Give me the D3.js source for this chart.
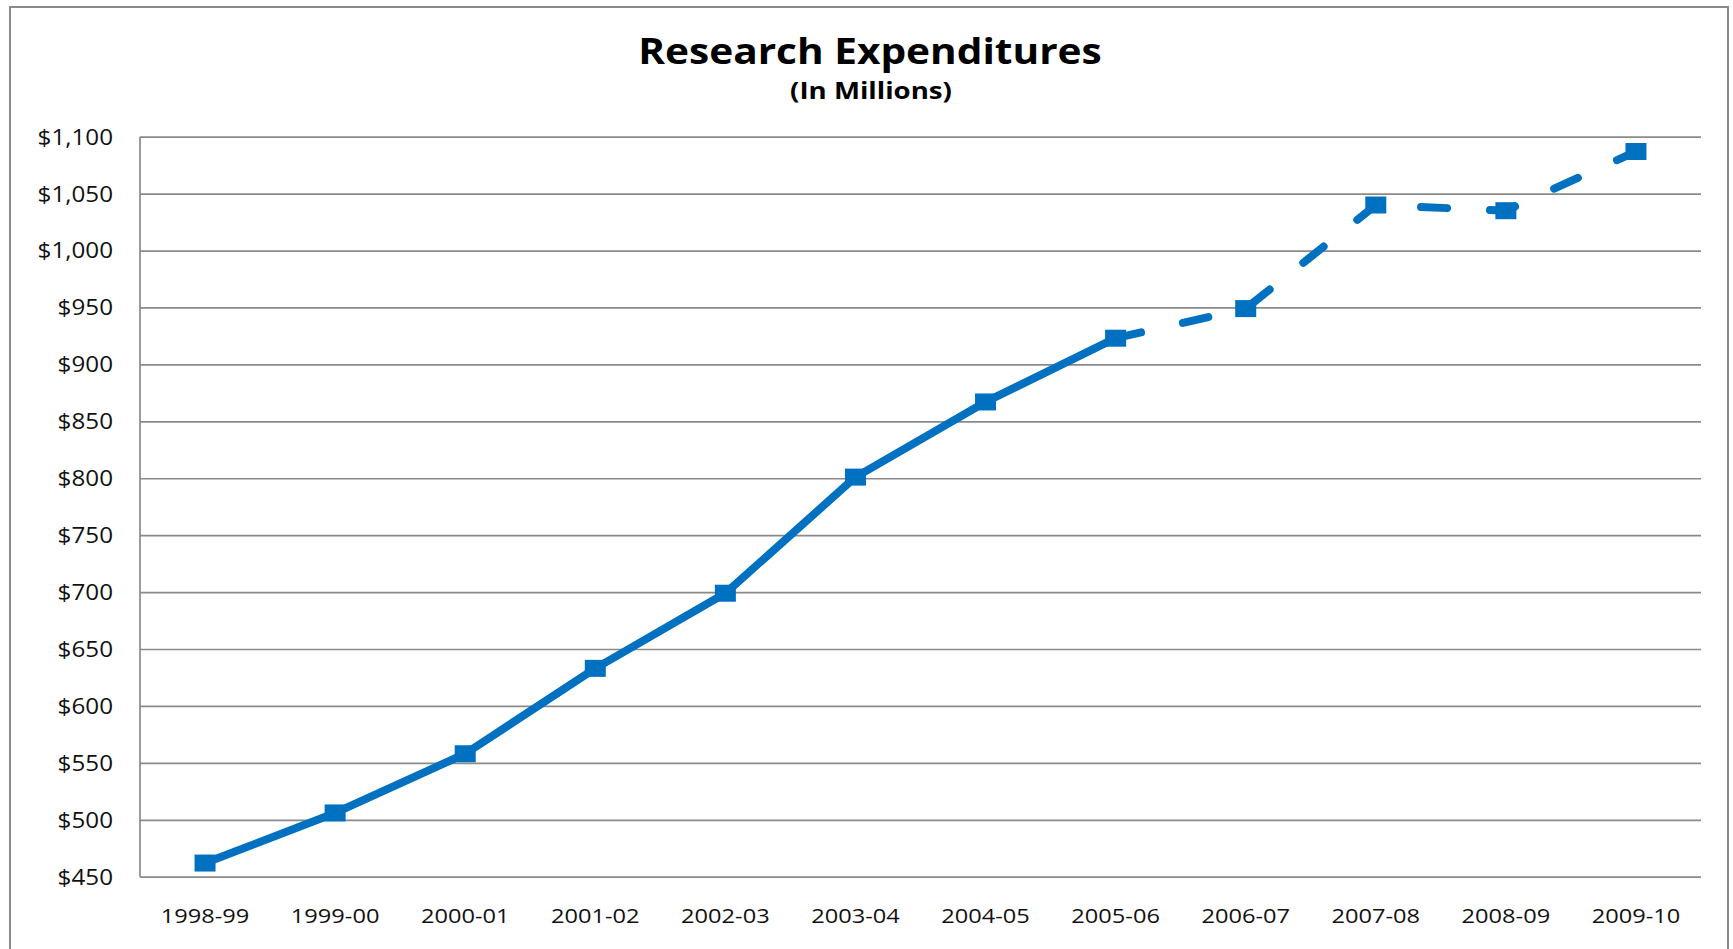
<!DOCTYPE html>
<html>
<head>
<meta charset="utf-8">
<script src="https://cdn.jsdelivr.net/npm/d3@7"></script>
<style>
  html, body { margin: 0; padding: 0; background: #fff; }
  svg { display: block; font-family: "Open Sans", sans-serif; }
  .grid line { stroke: #8a8a8a; stroke-width: 1.7; }
  .grid path { display: none; }
  .ylab text { font-size: 22px; fill: #111; }
  .xlab text { font-size: 20px; fill: #111; }
</style>
</head>
<body>
<svg width="1733" height="949"></svg>
<script>
"use strict"

// data
const years = ["1998-99", "1999-00", "2000-01", "2001-02", "2002-03", "2003-04",
               "2004-05", "2005-06", "2006-07", "2007-08", "2008-09", "2009-10"]
const spending = [462, 506, 558, 633, 699, 801, 867, 923, 949, 1040, 1035, 1087]
// last actual year, after that the line is dashed
const lastSolid = "2005-06"
const yTicks = [450, 500, 550, 600, 650, 700, 750, 800, 850, 900, 950, 1000, 1050, 1100]

let svg = d3.select("svg"),
    width = +svg.attr("width"),
    height = +svg.attr("height")

let plot = {left: 140, right: 1701, top: 136.7, bottom: 876.7}
let blue = "#0070C0"

// the original picture is a bit wider than tall, so text is stretched sideways
function stretch(sel, k) {
  sel.each(function() {
    let w = this.getComputedTextLength()
    d3.select(this)
      .attr("textLength", w * k)
      .attr("lengthAdjust", "spacingAndGlyphs")
  })
}

// outer chart frame
svg.append("rect")
    .attr("x", 10).attr("y", 7)
    .attr("width", 1718).attr("height", height + 20)
    .attr("fill", "none")
    .attr("stroke", "#8a8a8a")
    .attr("stroke-width", 2)

let x = d3.scalePoint()
    .domain(years)
    .range([plot.left, plot.right])
    .padding(0.5)

let y = d3.scaleLinear()
    .domain([450, 1100])
    .range([plot.bottom, plot.top])

// horizontal gridlines
svg.append("g")
    .attr("class", "grid")
    .attr("transform", "translate(" + plot.left + ",0)")
    .call(d3.axisLeft(y).tickValues(yTicks).tickSize(-(plot.right - plot.left)).tickFormat(""))

// vertical axis line
svg.append("line")
    .attr("x1", plot.left).attr("x2", plot.left)
    .attr("y1", plot.top).attr("y2", plot.bottom)
    .attr("stroke", "#8a8a8a")
    .attr("stroke-width", 1.7)

// y labels
let fmt = d3.format(",")
svg.append("g")
    .attr("class", "ylab")
    .selectAll("text")
    .data(yTicks)
    .enter().append("text")
      .attr("x", 113)
      .attr("y", d => y(d))
      .attr("dy", "0.36em")
      .attr("text-anchor", "end")
      .text(d => "$" + fmt(d))
      .call(stretch, 1.1)

// x labels
svg.append("g")
    .attr("class", "xlab")
    .selectAll("text")
    .data(years)
    .enter().append("text")
      .attr("x", d => x(d))
      .attr("y", 923)
      .attr("text-anchor", "middle")
      .text(d => d)
      .call(stretch, 1.18)

let points = years.map((yr, i) => ({year: yr, value: spending[i]}))
let cut = years.indexOf(lastSolid)

let line = d3.line()
    .x(d => x(d.year))
    .y(d => y(d.value))

svg.append("path")
    .datum(points.slice(0, cut + 1))
    .attr("d", line)
    .attr("fill", "none")
    .attr("stroke", blue)
    .attr("stroke-width", 8)
    .attr("stroke-linejoin", "round")

svg.append("path")
    .datum(points.slice(cut))
    .attr("d", line)
    .attr("fill", "none")
    .attr("stroke", blue)
    .attr("stroke-width", 8)
    .attr("stroke-linecap", "round")
    .attr("stroke-dasharray", "26,43")

// square markers
svg.append("g")
    .selectAll("rect")
    .data(points)
    .enter().append("rect")
      .attr("x", d => x(d.year) - 10.5)
      .attr("y", d => y(d.value) - 8.5)
      .attr("width", 21)
      .attr("height", 17)
      .attr("fill", blue)

// titles
svg.append("text")
    .attr("x", 870).attr("y", 64)
    .attr("text-anchor", "middle")
    .attr("font-size", 35)
    .attr("font-weight", "bold")
    .attr("fill", "#000")
    .text("Research Expenditures")
    .call(stretch, 1.16)

svg.append("text")
    .attr("x", 871).attr("y", 99)
    .attr("text-anchor", "middle")
    .attr("font-size", 23)
    .attr("font-weight", "bold")
    .attr("fill", "#000")
    .text("(In Millions)")
    .call(stretch, 1.2)
</script>
</body>
</html>
